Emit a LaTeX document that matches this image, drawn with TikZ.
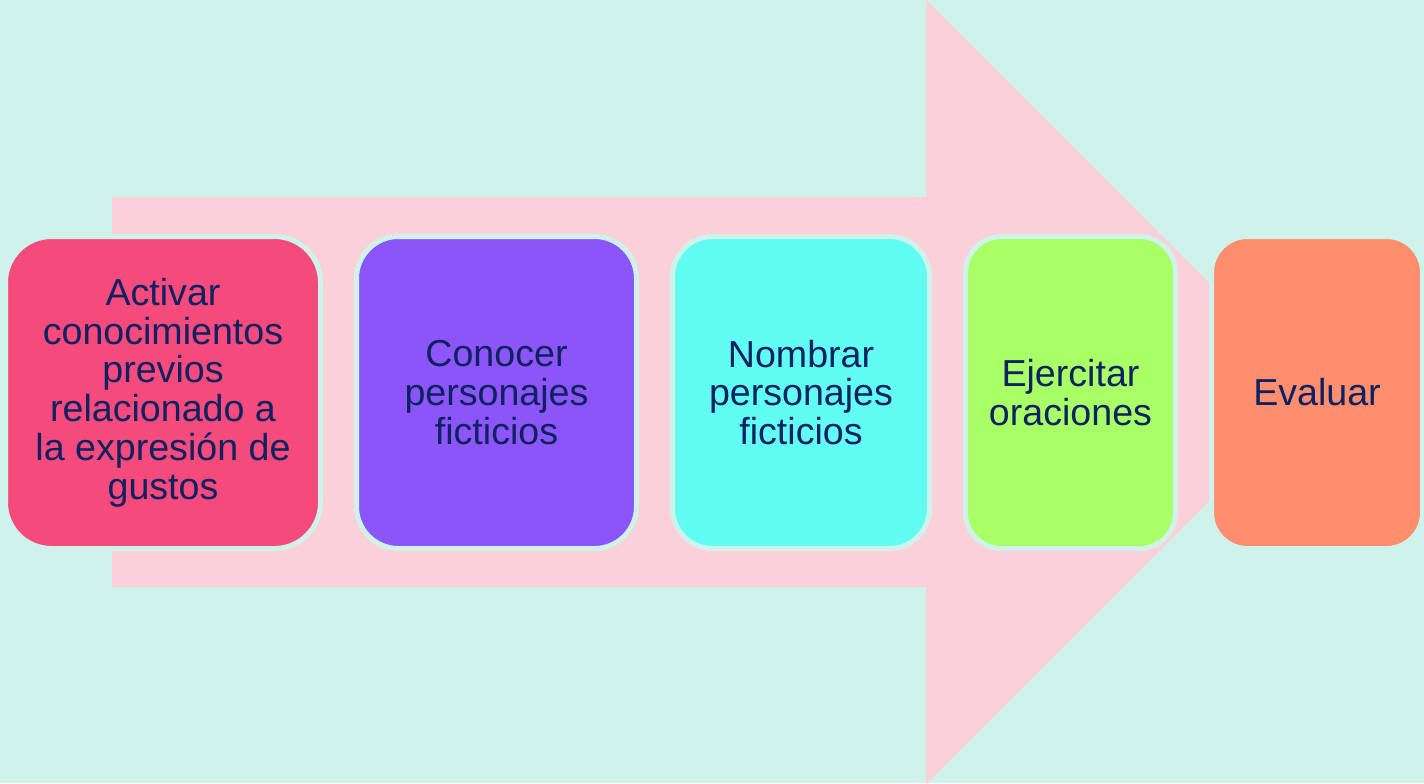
\documentclass[tikz,border=0pt]{standalone}
\usepackage{fontspec}
\setmainfont{Liberation Sans}
\definecolor{bgmint}{HTML}{CFF3EA}
\definecolor{arrowpink}{HTML}{FCD0D8}
\definecolor{boxA}{HTML}{F44A7C}
\definecolor{boxB}{HTML}{8B55F7}
\definecolor{boxC}{HTML}{62FDF2}
\definecolor{boxD}{HTML}{A8FF66}
\definecolor{boxE}{HTML}{FF8E6E}
\definecolor{txt}{HTML}{0E2160}
\begin{document}
\begin{tikzpicture}[x=0.5pt,y=-0.5pt,
  stepbox/.style={draw=bgmint, line width=2.5pt, text=txt, align=center,
    minimum height=156pt, inner sep=0pt,
    font=\fontsize{18.8pt}{19.4pt}\selectfont}]
\clip (0,0) rectangle (1424,783);
\fill[bgmint] (0,0) rectangle (1424,783);
\fill[arrowpink] (112,197) -- (926,197) -- (926,0) -- (1318,392) -- (926,784) -- (926,587) -- (112,587) -- cycle;
\node[stepbox, fill=boxA, minimum width=157.5pt, rounded corners=23pt] (a) at (163,392.5)
  {Activar\\conocimientos\\previos\\relacionado a\\la expresión de\\gustos};
\node[stepbox, fill=boxB, minimum width=140pt, rounded corners=21pt] (b) at (496.5,392.5)
  {Conocer\\personajes\\ficticios};
\node[stepbox, fill=boxC, minimum width=128.5pt, rounded corners=20pt] (c) at (801,392.5)
  {Nombrar\\personajes\\ficticios};
\node[stepbox, fill=boxD, minimum width=105pt, rounded corners=18pt] (d) at (1070.5,392.5)
  {Ejercitar\\oraciones};
\node[stepbox, fill=boxE, minimum width=105.5pt, rounded corners=18pt] (e) at (1317,392.5)
  {Evaluar};
\end{tikzpicture}
\end{document}
